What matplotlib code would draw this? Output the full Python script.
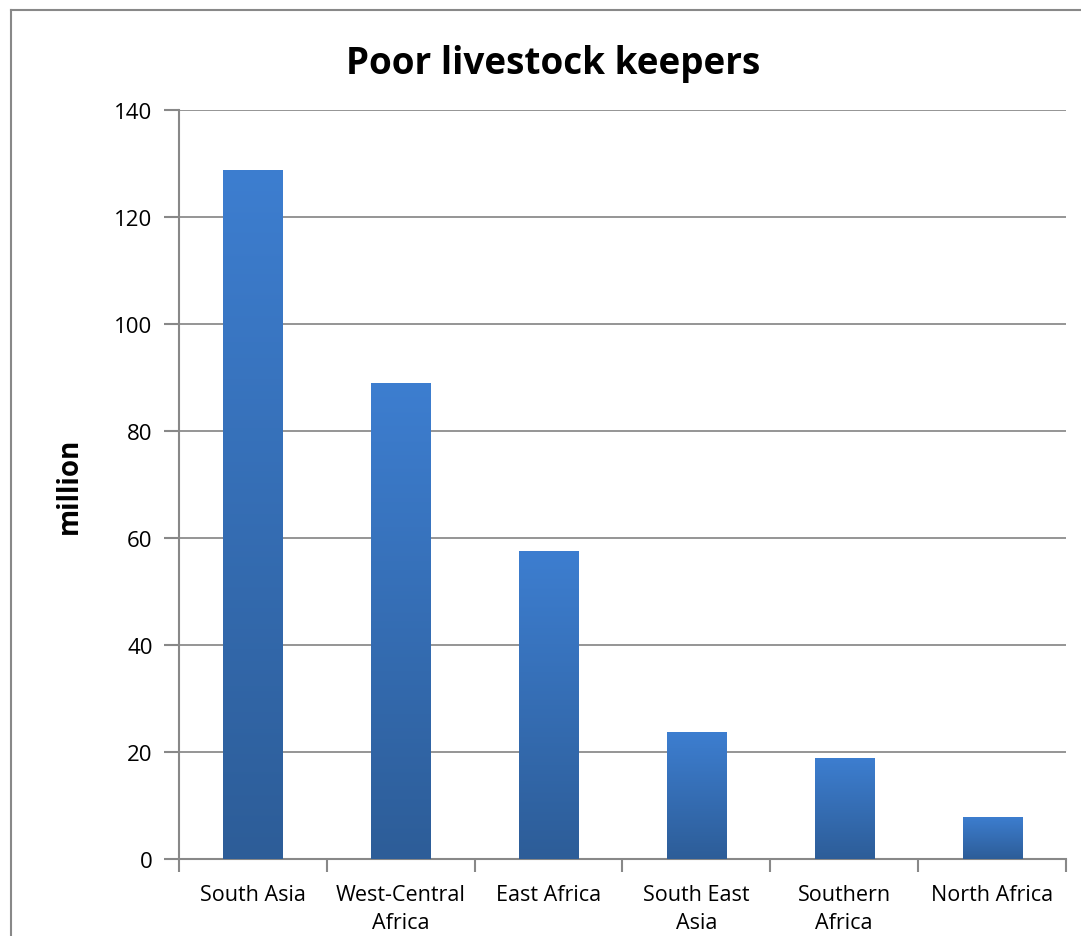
import matplotlib
matplotlib.use("Agg")
import matplotlib.pyplot as plt
import numpy as np
from matplotlib.lines import Line2D
from matplotlib.colors import LinearSegmentedColormap

categories = ["South Asia", "West-Central\nAfrica", "East Africa", "South East\nAsia", "Southern\nAfrica", "North Africa"]
values = [128.8, 89.0, 57.6, 23.7, 18.9, 7.9]
yticks = [0, 20, 40, 60, 80, 100, 120, 140]

plt.rcParams['font.family'] = ['Open Sans', 'DejaVu Sans']

fig = plt.figure(figsize=(10.81, 9.37), dpi=100)
ax = fig.add_axes([179/1081, 77/937, (1066-179)/1081, (860-111)/937])

x = np.arange(len(categories))
bars = ax.bar(x, values, width=0.4, color="#3470B8", zorder=3, edgecolor="none")

cmap = LinearSegmentedColormap.from_list("g", ["#2D5D98", "#3D7ED0"])
grad = np.linspace(0, 1, 256).reshape(-1, 1)
for b in bars:
    x0, y0 = b.get_x(), b.get_y()
    w, h = b.get_width(), b.get_height()
    im = ax.imshow(grad, cmap=cmap, aspect="auto", origin="lower",
                   extent=(x0, x0 + w, y0, y0 + h), zorder=4, interpolation="bilinear")
    im.set_clip_path(b)

ax.set_xlim(-0.5, len(categories) - 0.5)
ax.set_ylim(0, 140)
ax.set_yticks(yticks)
ax.set_yticklabels([str(v) for v in yticks], fontsize=16)
ax.set_xticks(x)
ax.set_xticklabels(categories, fontsize=15.5, linespacing=1.45)
ax.set_xticks(np.arange(-0.5, len(categories)), minor=True)
ax.tick_params(axis="x", which="major", length=0, pad=18)
ax.tick_params(axis="x", which="minor", length=9, width=1.5, color="#888888")
ax.tick_params(axis="y", length=11, width=1.5, color="#888888", pad=8)

ax.grid(axis="y", color="#8c8c8c", linewidth=1.3, zorder=0)
for s in ["top", "right"]:
    ax.spines[s].set_visible(False)
for s in ["left", "bottom"]:
    ax.spines[s].set_color("#888888")
    ax.spines[s].set_linewidth(1.5)
ax.set_axisbelow(True)

ax.set_ylabel("million", fontsize=20, fontweight="bold", labelpad=22)

fig.text(553/1081, 1 - 64/937, "Poor livestock keepers", ha="center", va="center",
         fontsize=26.6, fontweight="bold")

fig.add_artist(Line2D([11/1081, 11/1081], [0, 1 - 11/937], transform=fig.transFigure,
                      color="#888888", linewidth=1.5))
fig.add_artist(Line2D([11/1081, 1], [1 - 11/937, 1 - 11/937], transform=fig.transFigure,
                      color="#888888", linewidth=1.5))

fig.savefig("out.png", dpi=100)
